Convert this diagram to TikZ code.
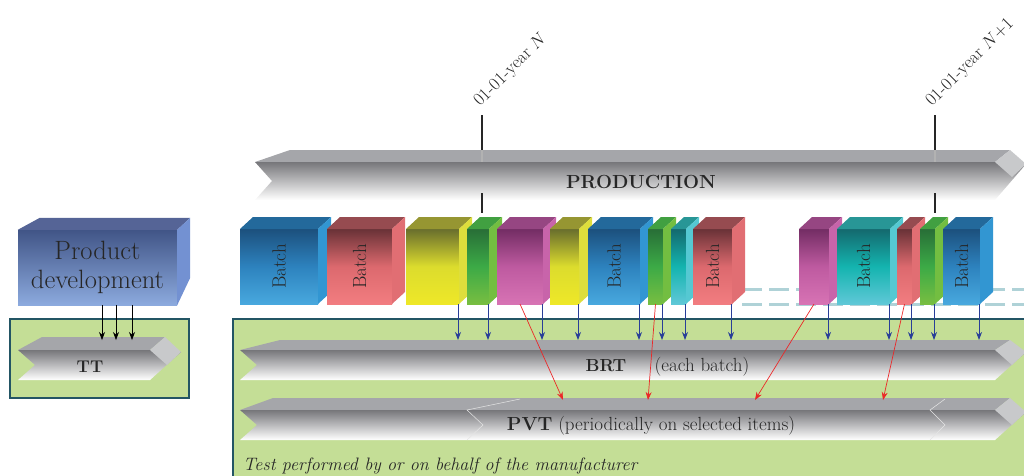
\documentclass[tikz,border=0pt]{standalone}
\usepackage{fontspec}
\usetikzlibrary{arrows.meta}

\definecolor{testgreen}{RGB}{196,222,150}
\definecolor{boxline}{RGB}{35,85,100}
\definecolor{flowtop}{RGB}{165,166,170}
\definecolor{flowcap}{RGB}{200,201,203}
\definecolor{flowdark}{RGB}{118,118,122}
\definecolor{flowmid}{RGB}{212,212,214}
\definecolor{pdA}{RGB}{65,85,135}
\definecolor{pdB}{RGB}{140,170,222}
\definecolor{pdT}{RGB}{85,100,150}
\definecolor{pdS}{RGB}{115,145,210}
\definecolor{arrowblue}{RGB}{40,62,152}
\definecolor{arrowred}{RGB}{235,40,40}
\definecolor{dashcol}{RGB}{175,210,215}
% batch colours: A top, M middle, B bottom, T top face, S side face
\definecolor{blA}{RGB}{28,80,125}
\definecolor{blM}{RGB}{45,130,190}
\definecolor{blB}{RGB}{72,168,222}
\definecolor{blT}{RGB}{35,105,155}
\definecolor{blS}{RGB}{50,150,210}
\definecolor{rdA}{RGB}{105,50,55}
\definecolor{rdM}{RGB}{220,105,110}
\definecolor{rdB}{RGB}{242,125,128}
\definecolor{rdT}{RGB}{150,75,80}
\definecolor{rdS}{RGB}{225,110,115}
\definecolor{yeA}{RGB}{105,110,45}
\definecolor{yeM}{RGB}{220,220,45}
\definecolor{yeB}{RGB}{238,232,40}
\definecolor{yeT}{RGB}{150,150,50}
\definecolor{yeS}{RGB}{222,222,60}
\definecolor{grA}{RGB}{40,110,55}
\definecolor{grM}{RGB}{60,170,70}
\definecolor{grB}{RGB}{120,190,65}
\definecolor{grT}{RGB}{65,160,65}
\definecolor{grS}{RGB}{115,190,65}
\definecolor{mgA}{RGB}{115,45,100}
\definecolor{mgM}{RGB}{190,90,160}
\definecolor{mgB}{RGB}{215,115,180}
\definecolor{mgT}{RGB}{150,70,130}
\definecolor{mgS}{RGB}{200,100,170}
\definecolor{tlA}{RGB}{20,105,110}
\definecolor{tlM}{RGB}{20,180,175}
\definecolor{tlB}{RGB}{95,200,215}
\definecolor{tlT}{RGB}{40,150,150}
\definecolor{tlS}{RGB}{85,200,210}

\tikzset{
    testbox/.style={fill=testgreen, draw=boxline, line width=1.2pt},
    batch/.style={inner sep=0pt, outer sep=0pt, anchor=north west, minimum height=75},
    batchlabel/.style={rotate=90, font=\fontsize{19}{21}\selectfont, text=black!85},
    flowtext/.style={anchor=base, inner sep=0pt, font=\fontsize{19}{22}\selectfont, text=black!85},
    bigtext/.style={anchor=base, inner sep=0pt, font=\fontsize{19}{22}\selectfont\bfseries, text=black!85},
    yearline/.style={line width=2.5pt, draw=black!85},
    yearlabel/.style={rotate=45, anchor=base west, inner sep=0pt, font=\fontsize{18}{20}\selectfont, text=black!85},
    pdbox/.style={minimum width=159, minimum height=75, inner sep=0pt, top color=pdA, bottom color=pdB,
        align=center, font=\fontsize{26.5}{29}\selectfont, text=black!85},
    pdarrow/.style={draw=black, line width=0.7pt, -{Stealth[length=8pt,width=6pt]}},
    brtarrow/.style={draw=arrowblue, line width=0.8pt, -{Stealth[length=8pt,width=6pt]}},
    pvtarrow/.style={draw=arrowred, line width=0.7pt, -{Stealth[length=8pt,width=6pt]}},
    dashline/.style={draw=dashcol, line width=3pt, dash pattern=on 20pt off 7pt},
    faint/.style={draw=black!10, line width=0.5pt}
}

% #1 left, #2 tip, #3 top, #4 front top, #5 bottom, #6 depth
\newcommand{\flowarrow}[6]{%
    \fill[flowtop] ({#1+#6},#3) -- ({#2-16},#3) -- ({#2-31},#4) -- (#1,#4) -- cycle;
    \shade[top color=flowdark, middle color=flowmid, bottom color=white]
        (#1,#4) -- ({#2-31},#4) -- (#2,{#4+2}) -- ({#2-31},#5) -- (#1,#5) -- ({#1+17},{(#4+#5)/2}) -- cycle;
    \fill[flowcap] ({#2-31},#4) -- ({#2-16},#3) -- (#2,{#4+2}) -- ({#2-14},{#4+15}) -- cycle;
}

\begin{document}
\begin{tikzpicture}[x=1pt,y=-1pt]
    \useasboundingbox (0,0) rectangle (1024,475);
    \clip (0,0) rectangle (1024,475);

    \draw[testbox] (10,319) rectangle (189,398);
    \draw[testbox] (233,319) rectangle (1040,490);

    % production
    \flowarrow{255}{1026}{150}{162}{200}{35}
    \node[bigtext] (prod) at (641,188) {PRODUCTION};

    \coordinate (yN) at (482,115);
    \coordinate (yN1) at (935,115);
    \coordinate (prodtop) at (0,150);
    \coordinate (prodface) at (0,162);
    \coordinate (prodbot) at (0,193);
    \coordinate (boxtop) at (0,213);
    \foreach \m in {yN,yN1} {
        \draw[yearline] (\m) -- (\m |- prodtop);
        \draw[yearline, draw=black!30] (\m |- prodtop) -- (\m |- prodface);
        \draw[yearline] (\m |- prodbot) -- (\m |- boxtop);
    }
    \node[yearlabel] (labN) at (480,107) {01-01-year $N$};
    \node[yearlabel] (labN1) at (932,107) {01-01-year $N$+1};

    % product development
    \node[pdbox] (pd) at (97.5,267.5) {Product\\development};
    \fill[pdT] (pd.north west) -- ++(22,-12) -- ([shift={(13,-12)}]pd.north east) -- (pd.north east) -- cycle;
    \fill[pdS] (pd.north east) -- ++(13,-12) -- ++(0,60) -- (pd.south east) -- cycle;

    % batches
    \draw[dashline] (742,289) -- (1030,289);
    \draw[dashline] (742,304) -- (1030,304);
    \foreach \xa/\xb/\col [count=\i] in {240/318/bl, 327/392/rd, 406/459/ye, 467/489/gr, 497/543/mg,
        550/579/ye, 588/640/bl, 648/663/gr, 671/686/tl, 693/732/rd, 799/829/mg, 837/890/tl,
        897/912/rd, 920/935/gr, 943/980/bl} {
        \pgfmathsetmacro\w{\xb-\xa}
        \node[batch, minimum width=\w pt, top color=\col A, bottom color=\col B, middle color=\col M]
            (b\i) at (\xa,229) {};
        \fill[\col T] (b\i.north west) -- ++(13,-12) -- ([shift={(13,-12)}]b\i.north east) -- (b\i.north east) -- cycle;
        \fill[\col S] (b\i.north east) -- ++(13,-12) -- ++(0,75) -- (b\i.south east) -- cycle;
    }
    \foreach \i in {1,2,7,10,12,15}
        \node[batchlabel] (lab\i) at (b\i.center) {Batch};

    % tests
    \flowarrow{18}{181}{337}{350}{380}{24}
    \flowarrow{240}{1026}{340}{350}{380}{40}
    \flowarrow{240}{1026}{398}{410}{440}{33}
    \draw[faint] (520,399) -- (467,410) -- (483,425) -- (467,440);
    \draw[faint] (945,399) -- (930,410) -- (945,425) -- (930,440);
    \node[flowtext, font=\fontsize{17}{19}\selectfont\bfseries] (tt) at (90,372) {TT};
    \node[flowtext, font=\fontsize{17.5}{20}\selectfont\bfseries] (brt) at (606,371) {BRT};
    \node[flowtext] (each) at (702,371) {(each batch)};
    \node[flowtext] (pvt) at (651,430) {\textbf{PVT} (periodically on selected items)};
    \node[flowtext, anchor=base west, font=\fontsize{18}{20}\selectfont\itshape] (who) at (243,470)
        {Test performed by or on behalf of the manufacturer};

    % connectors
    \coordinate (tttop) at (0,340);
    \coordinate (brttop) at (0,340);
    \foreach \x in {102,116,132}
        \draw[pdarrow] (pd.south -| \x,0) -- (\x,0 |- tttop);
    \foreach \i in {3,...,15}
        \draw[brtarrow] ([xshift=-1pt]b\i.south east) -- ([xshift=-1pt]b\i.south east |- brttop);
    \coordinate (pvt1) at (563,400);
    \coordinate (pvt2) at (648,400);
    \coordinate (pvt3) at (755,400);
    \coordinate (pvt4) at (883,400);
    \draw[pvtarrow] (b5.south) -- (pvt1);
    \draw[pvtarrow] (b8.south) -- (pvt2);
    \draw[pvtarrow] (b11.south) -- (pvt3);
    \draw[pvtarrow] (b13.south) -- (pvt4);
\end{tikzpicture}
\end{document}
